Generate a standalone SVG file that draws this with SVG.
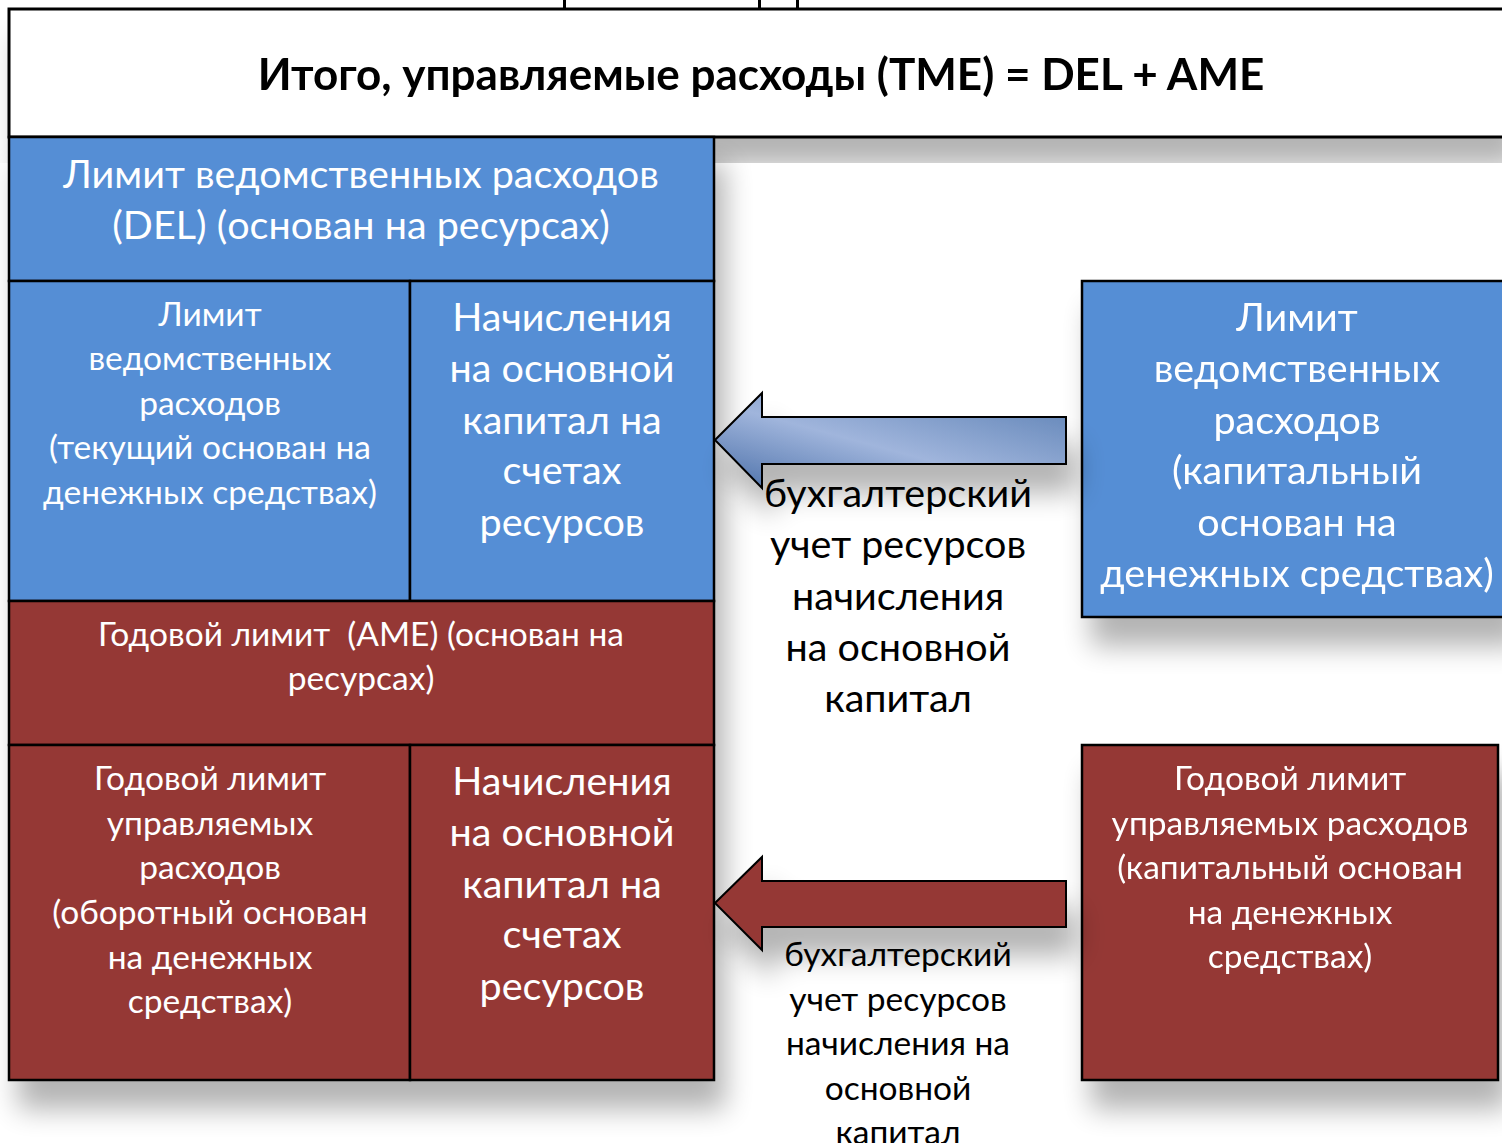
<svg xmlns="http://www.w3.org/2000/svg" width="1502" height="1143" viewBox="0 0 1502 1143">
<defs>
<style>
.box{stroke:#000;stroke-width:2.5}
.blue{fill:#558ED5}
.red{fill:#953735}
.t{font-family:Lato,"Open Sans","Liberation Sans",sans-serif;text-anchor:middle}
.w{fill:#fff}
.k{fill:#000}
.s{font-size:33.5px}
.l{font-size:39.5px}
</style>
<filter id="sh" x="-20%" y="-20%" width="140%" height="140%">
<feGaussianBlur in="SourceAlpha" stdDeviation="14"/>
<feOffset dx="10" dy="28" result="b"/>
<feComponentTransfer><feFuncA type="linear" slope="0.3"/></feComponentTransfer>
<feMerge><feMergeNode/><feMergeNode in="SourceGraphic"/></feMerge>
</filter>
<filter id="sha" x="-20%" y="-60%" width="140%" height="260%">
<feGaussianBlur in="SourceAlpha" stdDeviation="14"/>
<feOffset dx="10" dy="28" result="b"/>
<feComponentTransfer><feFuncA type="linear" slope="0.3"/></feComponentTransfer>
<feMerge><feMergeNode/><feMergeNode in="SourceGraphic"/></feMerge>
</filter>
<linearGradient id="ag" x1="0" y1="1" x2="1" y2="0">
<stop offset="0" stop-color="#4A6FA8"/>
<stop offset="0.45" stop-color="#A0B5DC"/>
<stop offset="1" stop-color="#5B80B4"/>
</linearGradient>
</defs>
<rect width="1502" height="1143" fill="#fff"/>
<g id="top-marks" fill="#000">
<rect x="563" y="0" width="3" height="9"/>
<rect x="758" y="0" width="3" height="9"/>
<rect x="796" y="0" width="3" height="9"/>
</g>
<g id="header" filter="url(#sh)">
<rect x="9" y="9" width="1500" height="128" fill="#fff" stroke="#000" stroke-width="3"/>
<text class="t k" x="761" y="90" font-size="44" font-weight="bold">Итого, управляемые расходы (TME) = DEL + AME</text>
</g>
<g id="left-stack" filter="url(#sh)">
<rect class="box blue" x="9" y="137" width="705" height="144"/>
<rect class="box blue" x="9" y="281" width="401" height="320"/>
<rect class="box blue" x="410" y="281" width="304" height="320"/>
<rect class="box red" x="9" y="601" width="705" height="144"/>
<rect class="box red" x="9" y="745" width="401" height="335"/>
<rect class="box red" x="410" y="745" width="304" height="335"/>
</g>
<g id="del" class="t w l">
<text x="361" y="188">Лимит ведомственных расходов</text>
<text x="361" y="239">(DEL) (основан на ресурсах)</text>
</g>
<g id="del-current" class="t w s">
<text x="210" y="326">Лимит</text>
<text x="210" y="370">ведомственных</text>
<text x="210" y="415">расходов</text>
<text x="210" y="459">(текущий основан на</text>
<text x="210" y="504">денежных средствах)</text>
</g>
<g id="del-accruals" class="t w l">
<text x="562" y="331">Начисления</text>
<text x="562" y="382">на основной</text>
<text x="562" y="434">капитал на</text>
<text x="562" y="484">счетах</text>
<text x="562" y="536">ресурсов</text>
</g>
<g id="ame" class="t w s">
<text x="361" y="646" xml:space="preserve">Годовой лимит  (AME) (основан на</text>
<text x="361" y="690">ресурсах)</text>
</g>
<g id="ame-current" class="t w s">
<text x="210" y="790">Годовой лимит</text>
<text x="210" y="835">управляемых</text>
<text x="210" y="879">расходов</text>
<text x="210" y="924">(оборотный основан</text>
<text x="210" y="969">на денежных</text>
<text x="210" y="1013">средствах)</text>
</g>
<g id="ame-accruals" class="t w l">
<text x="562" y="795">Начисления</text>
<text x="562" y="846">на основной</text>
<text x="562" y="898">капитал на</text>
<text x="562" y="948">счетах</text>
<text x="562" y="1000">ресурсов</text>
</g>
<g id="del-capital" filter="url(#sh)">
<rect class="box blue" x="1082" y="281" width="430" height="336"/>
<g class="t w l">
<text x="1297" y="331">Лимит</text>
<text x="1297" y="382">ведомственных</text>
<text x="1297" y="434">расходов</text>
<text x="1297" y="484">(капитальный</text>
<text x="1297" y="536">основан на</text>
<text x="1297" y="587">денежных средствах)</text>
</g>
</g>
<g id="ame-capital" filter="url(#sh)">
<rect class="box red" x="1082" y="745" width="416" height="335"/>
<g class="t w s">
<text x="1290" y="790">Годовой лимит</text>
<text x="1290" y="835">управляемых расходов</text>
<text x="1290" y="879">(капитальный основан</text>
<text x="1290" y="924">на денежных</text>
<text x="1290" y="968">средствах)</text>
</g>
</g>
<g id="connectors">
<path filter="url(#sha)" d="M715,440 L762,393 L762,417 L1066,417 L1066,464 L762,464 L762,488 Z" fill="url(#ag)" stroke="#000" stroke-width="2"/>
<path filter="url(#sha)" d="M715,903 L762,857 L762,881 L1066,881 L1066,927 L762,927 L762,950 Z" fill="#953735" stroke="#000" stroke-width="2"/>
<g class="t k l">
<text x="898" y="507">бухгалтерский</text>
<text x="898" y="558">учет ресурсов</text>
<text x="898" y="610">начисления</text>
<text x="898" y="661">на основной</text>
<text x="898" y="712">капитал</text>
</g>
<g class="t k s">
<text x="898" y="966">бухгалтерский</text>
<text x="898" y="1011">учет ресурсов</text>
<text x="898" y="1055">начисления на</text>
<text x="898" y="1100">основной</text>
<text x="898" y="1144">капитал</text>
</g>
</g>
</svg>
